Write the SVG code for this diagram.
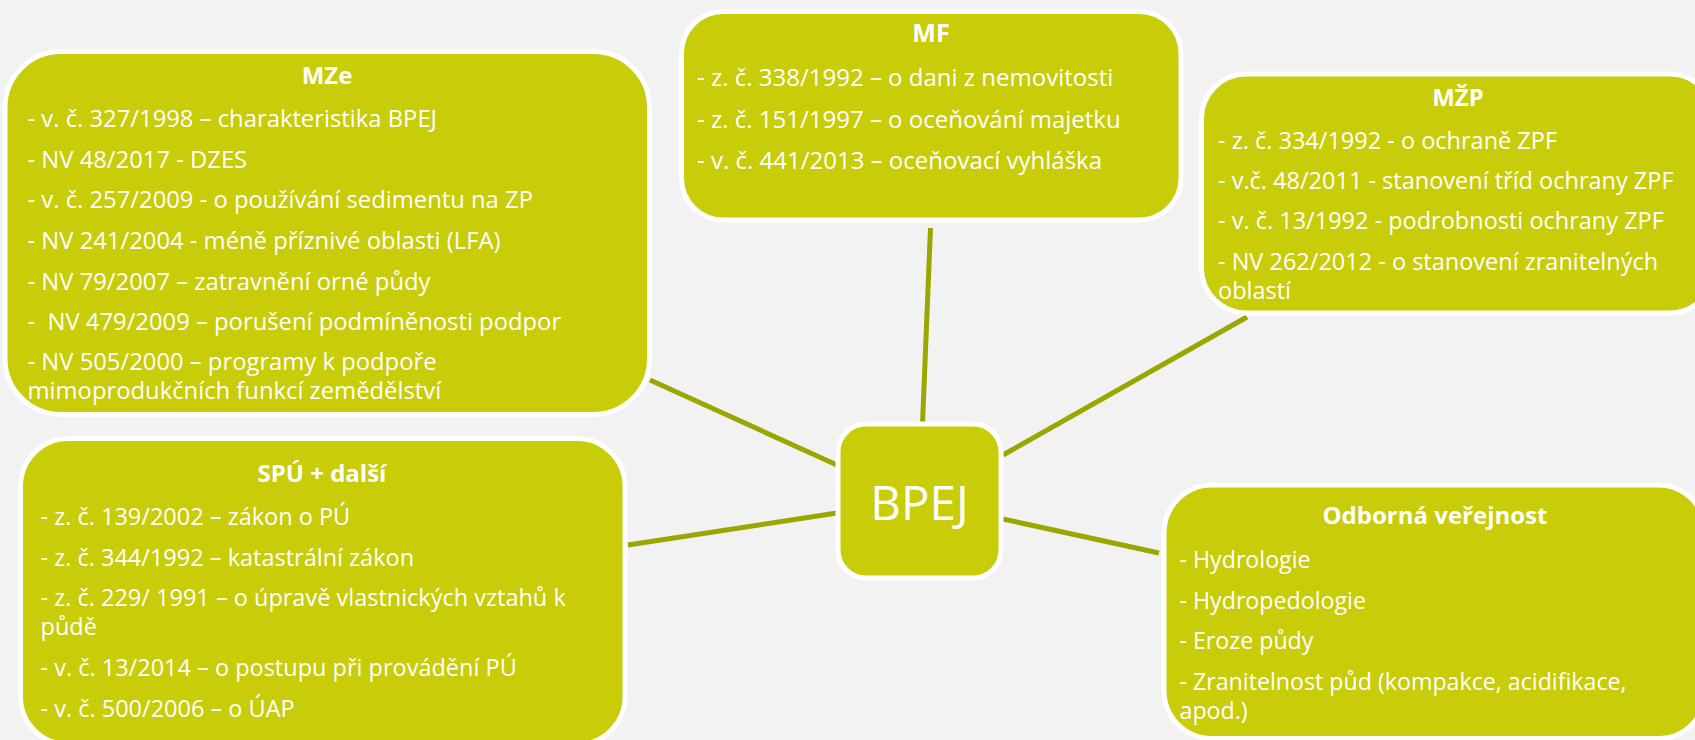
<svg xmlns="http://www.w3.org/2000/svg" width="1695" height="740" viewBox="0 0 1695 740">
<style>
.box{fill:#C8CC09;stroke:#FFFFFF;stroke-width:5}
.t{font-family:"Open Sans","Noto Sans","Liberation Sans",sans-serif;fill:#FFFFFF;font-size:23.5px}
.h{font-family:"Open Sans","Noto Sans","Liberation Sans",sans-serif;fill:#FFFFFF;font-size:24px;font-weight:bold;text-anchor:middle}
.c{stroke:#9BA600;stroke-width:5;fill:none}
#mze .t{font-size:23.8px}
#mf .t{font-size:24px}
#odborna .t{font-size:23.2px}
</style>
<rect width="1695" height="740" fill="#F2F2F2"/>
<g id="connectors">
<line class="c" x1="930.5" y1="228" x2="922.5" y2="424"/>
<line class="c" x1="650" y1="380" x2="837" y2="465"/>
<line class="c" x1="1003" y1="455" x2="1247" y2="317"/>
<line class="c" x1="628" y1="545" x2="837" y2="513"/>
<line class="c" x1="1003" y1="519" x2="1159" y2="553"/>
</g>
<g id="mze">
<rect class="box" x="5" y="51.5" width="644.5" height="363" rx="56"/>
<text class="h" x="327" y="84">MZe</text>
<text class="t" x="27.5" y="127">- v. č. 327/1998 – charakteristika BPEJ</text>
<text class="t" x="27.5" y="167.5">- NV 48/2017 - DZES</text>
<text class="t" x="27.5" y="207.5">- v. č. 257/2009 - o používání sedimentu na ZP</text>
<text class="t" x="27.5" y="248.5">- NV 241/2004 - méně příznivé oblasti (LFA)</text>
<text class="t" x="27.5" y="289.5">- NV 79/2007 – zatravnění orné půdy</text>
<text class="t" x="27.5" y="330" xml:space="preserve">-  NV 479/2009 – porušení podmíněnosti podpor</text>
<text class="t" x="27.5" y="370">- NV 505/2000 – programy k podpoře</text>
<text class="t" x="27.5" y="398.5">mimoprodukčních funkcí zemědělství</text>
</g>
<g id="mf">
<rect class="box" x="681.5" y="11.5" width="499.5" height="208.5" rx="42"/>
<text class="h" x="931" y="42" style="font-size:25px">MF</text>
<text class="t" x="697" y="86">- z. č. 338/1992 – o dani z nemovitosti</text>
<text class="t" x="697" y="127.5">- z. č. 151/1997 – o oceňování majetku</text>
<text class="t" x="697" y="169">- v. č. 441/2013 – oceňovací vyhláška</text>
</g>
<g id="mzp">
<rect class="box" x="1201.5" y="74" width="513" height="239" rx="45"/>
<text class="h" x="1458" y="106">MŽP</text>
<text class="t" x="1218" y="148.5">- z. č. 334/1992 - o ochraně ZPF</text>
<text class="t" x="1218" y="188.5">- v.č. 48/2011 - stanovení tříd ochrany ZPF</text>
<text class="t" x="1218" y="228.5">- v. č. 13/1992 - podrobnosti ochrany ZPF</text>
<text class="t" x="1218" y="269.5">- NV 262/2012 - o stanovení zranitelných</text>
<text class="t" x="1218" y="298.5">oblastí</text>
</g>
<g id="spu">
<rect class="box" x="20.5" y="438.5" width="604.5" height="306" rx="48"/>
<text class="h" x="322" y="482">SPÚ + další</text>
<text class="t" x="40.5" y="525">- z. č. 139/2002 – zákon o PÚ</text>
<text class="t" x="40.5" y="565.5">- z. č. 344/1992 – katastrální zákon</text>
<text class="t" x="40.5" y="605.5">- z. č. 229/ 1991 – o úpravě vlastnických vztahů k</text>
<text class="t" x="40.5" y="635">půdě</text>
<text class="t" x="40.5" y="676">- v. č. 13/2014 – o postupu při provádění PÚ</text>
<text class="t" x="40.5" y="717">- v. č. 500/2006 – o ÚAP</text>
</g>
<g id="odborna">
<rect class="box" x="1164" y="485" width="542" height="253.5" rx="48"/>
<text class="h" x="1435" y="524">Odborná veřejnost</text>
<text class="t" x="1179.5" y="567.5">- Hydrologie</text>
<text class="t" x="1179.5" y="608.5">- Hydropedologie</text>
<text class="t" x="1179.5" y="649">- Eroze půdy</text>
<text class="t" x="1179.5" y="690">- Zranitelnost půd (kompakce, acidifikace,</text>
<text class="t" x="1179.5" y="718.5">apod.)</text>
</g>
<g id="bpej">
<rect class="box" x="838" y="424" width="163" height="154" rx="28"/>
<text class="t" x="919.5" y="520" style="font-size:47.5px;text-anchor:middle">BPEJ</text>
</g>
</svg>
